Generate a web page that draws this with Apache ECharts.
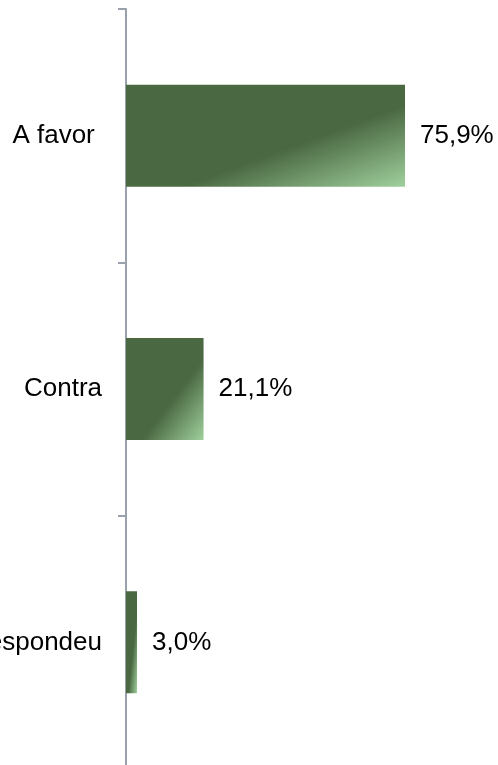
<!DOCTYPE html>
<html>
<head>
<meta charset="utf-8">
<script src="https://cdn.jsdelivr.net/npm/echarts@6/dist/echarts.min.js"></script>
<style>
html,body{margin:0;padding:0;background:#fff;}
#c{width:498px;height:765px;}
</style>
</head>
<body>
<div id="c"></div>
<script>
const categories = ['A favor ', 'Contra', 'Não respondeu'];
const values = [75.9, 21.1, 3.0];
const valueLabels = ['75,9%', '21,1%', '3,0%'];

const DARK = '#4a6842';
const LIGHT = '#a0d09d';
const BAR_W = 102;
const FONT = 'Liberation Sans, Arial, sans-serif';

const chart = echarts.init(document.getElementById('c'), null, {renderer: 'canvas'});

const option = {
  animation: false,
  backgroundColor: '#ffffff',
  grid: {left: 126, top: 9, width: 367.6, height: 760, containLabel: false, outerBoundsMode: 'none'},
  xAxis: {type: 'value', min: 0, max: 100, show: false},
  yAxis: {
    type: 'category',
    inverse: true,
    data: categories,
    axisLine: {show: true, lineStyle: {color: '#98a1ac', width: 2}},
    axisTick: {show: true, length: 8, lineStyle: {color: '#98a1ac', width: 2}},
    axisLabel: {color: '#000', fontSize: 26, fontFamily: FONT, margin: 24}
  },
  series: [{
    type: 'bar',
    barWidth: BAR_W,
    data: values,
    itemStyle: {color: DARK},
    label: {
      show: true,
      position: 'right',
      distance: 15,
      color: '#000',
      fontSize: 26,
      fontFamily: FONT,
      formatter: p => valueLabels[p.dataIndex]
    }
  }]
};
chart.setOption(option);

// Gradient whose iso-lines follow the bar's anti-diagonal (scaled with shape)
const x0 = chart.convertToPixel({xAxisIndex: 0}, 0);
const h = BAR_W;
const styled = values.map(v => {
  const w = Math.max(1, chart.convertToPixel({xAxisIndex: 0}, v) - x0);
  const s = h * h + w * w;
  return {
    value: v,
    itemStyle: {
      color: new echarts.graphic.LinearGradient(0, 0, 2 * h * h / s, 2 * w * w / s, [
        {offset: 0, color: DARK},
        {offset: 0.6, color: DARK},
        {offset: 1, color: LIGHT}
      ])
    }
  };
});
chart.setOption({series: [{data: styled}]});
</script>
</body>
</html>
